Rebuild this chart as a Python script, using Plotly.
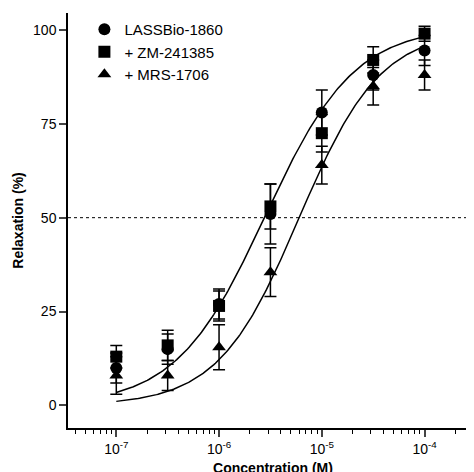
import numpy as np
import plotly.graph_objects as go

log_conc = [-7, -6.5, -6, -5.5, -5, -4.5, -4]
circle = [10, 15, 27, 51, 78, 88, 94.5]
circle_err = [4, 4, 4, 8, 6, 4, 4]
square = [13, 16, 26.5, 53, 72.5, 92, 99]
square_err = [3, 4, 4, 6, 5, 3.5, 2]
tri = [8, 8, 15.5, 35.5, 64, 85, 88]
tri_err = [5, 4, 6, 6.5, 5, 5, 4]
names = ["LASSBio-1860", "+ ZM-241385", "+ MRS-1706"]
fit_upper = dict(top=101, logec50=-5.55, hill=1.0)
fit_lower = dict(top=100, logec50=-5.22, hill=1.1)

x = [10**v for v in log_conc]
fig = go.Figure()
lx = np.linspace(-7, -4, 200)
for p in (fit_upper, fit_lower):
    yy = p["top"] / (1 + 10 ** ((p["logec50"] - lx) * p["hill"]))
    fig.add_trace(go.Scatter(x=10**lx, y=yy, mode="lines", line=dict(color="black", width=1.5),
                             showlegend=False, hoverinfo="skip"))
for y, e, sym, n in [(circle, circle_err, "circle", names[0]), (square, square_err, "square", names[1]),
                     (tri, tri_err, "triangle-up", names[2])]:
    fig.add_trace(go.Scatter(x=x, y=y, mode="markers", name=n,
                             marker=dict(symbol=sym, size=12, color="black"),
                             error_y=dict(type="data", array=e, color="black", thickness=1.5, width=6)))
fig.add_shape(type="line", xref="paper", x0=0, x1=1, y0=50, y1=50,
              line=dict(color="black", width=1, dash="dot"))

minor = [m * 10**d for d in range(-8, -3) for m in range(2, 10)]
fig.update_layout(
    width=474, height=472, margin=dict(l=60, r=4, t=5, b=52),
    paper_bgcolor="white", plot_bgcolor="white",
    font=dict(family="Liberation Sans, Arial", color="black", size=14),
    legend=dict(x=0.04, y=1.0, xanchor="left", yanchor="top", font=dict(size=15),
                bgcolor="rgba(0,0,0,0)", itemsizing="constant"),
    xaxis=dict(type="log", range=[-7.47, -3.48], showgrid=False, zeroline=False, automargin=False,
               showline=True, linecolor="black", linewidth=1.5, ticks="outside", ticklen=7,
               tickwidth=1.5,
               tickvals=[1e-7, 1e-6, 1e-5, 1e-4],
               ticktext=["10<sup>-7</sup>", "10<sup>-6</sup>", "10<sup>-5</sup>", "10<sup>-4</sup>"],
               minor=dict(tickvals=minor, ticks="outside", ticklen=4, tickcolor="black", tickwidth=1),
               title=dict(text="<b>Concentration (M)</b>", font=dict(size=14), standoff=8)),
    yaxis=dict(range=[-6, 104.5], showgrid=False, zeroline=False, showline=True, automargin=False,
               linecolor="black", linewidth=1.5, ticks="outside", ticklen=7, tickwidth=1.5,
               tickvals=[0, 25, 50, 75, 100],
               title=dict(text="<b>Relaxation (%)</b>", font=dict(size=14), standoff=6)),
)
fig.write_html("out.html")
